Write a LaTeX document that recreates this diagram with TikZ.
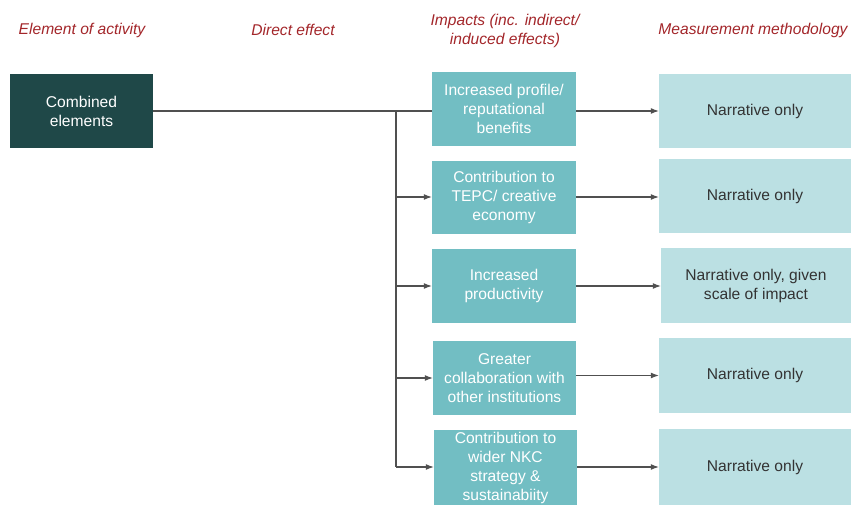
\documentclass[tikz,border=0pt]{standalone}
\usepackage{fontspec}
\setmainfont{Liberation Sans}
\usetikzlibrary{arrows.meta}
\definecolor{darkteal}{HTML}{1F4848}
\definecolor{midteal}{HTML}{72BEC3}
\definecolor{paleteal}{HTML}{BBE0E3}
\definecolor{headred}{HTML}{A3262A}
\definecolor{linegray}{HTML}{505050}
\definecolor{textgray}{HTML}{333333}
\begin{document}
\begin{tikzpicture}[x=1pt,y=-1pt,
  box/.style={inner sep=0pt, align=center, font=\fontsize{15.6}{19}\selectfont},
  elembox/.style={box, fill=darkteal, text=white, minimum width=143pt, minimum height=74pt},
  impactbox/.style={box, fill=midteal, text=white, minimum width=144pt, minimum height=74pt},
  measbox/.style={box, fill=paleteal, text=textgray, minimum width=192pt, minimum height=74pt},
  header/.style={align=center, text=headred, font=\fontsize{15.6}{19}\selectfont\itshape},
  link/.style={draw=linegray, line width=1.1pt},
  arrowlink/.style={link, -{Latex[length=8pt,width=6pt]}}
]
\useasboundingbox (0,0) rectangle (852,505);

% column headings
\node[header] (h1) at (82,30) {Element of activity};
\node[header] (h2) at (293,30) {Direct effect};
\node[header] (h3) at (505,31) {Impacts (inc. indirect/\\induced effects)};
\node[header] (h4) at (753,30) {Measurement methodology};

% element of activity
\node[elembox] (comb) at (81.5,111) {Combined\\elements};

% impacts
\node[impactbox] (i1) at (504,109) {Increased profile/\\reputational\\benefits};
\node[impactbox, minimum height=73pt] (i2) at (504,197.5) {Contribution to\\TEPC/ creative\\economy};
\node[impactbox] (i3) at (504,286) {Increased\\productivity};
\node[impactbox, minimum width=143pt] (i4) at (504.5,378) {Greater\\collaboration with\\other institutions};
\node[impactbox, minimum width=143pt, minimum height=75pt] (i5) at (505.5,467.5) {Contribution to\\wider NKC\\strategy \&\\sustainabiity};

% measurement methodology
\node[measbox] (m1) at (755,111) {Narrative only};
\node[measbox] (m2) at (755,196) {Narrative only};
\node[measbox, minimum width=190pt, minimum height=75pt] (m3) at (756,285.5) {Narrative only, given\\scale of impact};
\node[measbox, minimum height=75pt] (m4) at (755,375.5) {Narrative only};
\node[measbox, minimum height=76pt] (m5) at (755,467) {Narrative only};

% trunk from the combined elements
\coordinate (trunk) at (396,111);
\coordinate (b2) at (396,197);
\coordinate (b3) at (396,286);
\coordinate (b4) at (396,378);
\coordinate (b5) at (396,467);
\draw[link] (comb.east) -- (i1.west |- comb.east);
\draw[link] (trunk) -- (b5);
\draw[arrowlink] (b2) -- (i2.west |- b2);
\draw[arrowlink] (b3) -- (i3.west |- b3);
\draw[arrowlink] (b4) -- (i4.west |- b4);
\draw[arrowlink] (b5) -- (i5.west |- b5);

% impacts to methodology
\draw[arrowlink] (i1.east |- m1.west) -- (m1.west);
\draw[arrowlink] (i2.east |- b2) -- (m2.west |- b2);
\draw[arrowlink] (i3.east |- b3) -- (m3.west |- b3);
\draw[arrowlink] (i4.east |- m4.west) -- (m4.west);
\draw[arrowlink] (i5.east |- m5.west) -- (m5.west);
\end{tikzpicture}
\end{document}
